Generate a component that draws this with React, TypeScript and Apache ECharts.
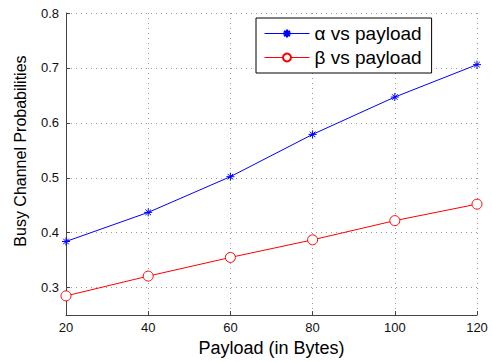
import React, { useEffect, useRef } from "react";
import * as echarts from "echarts";

const payload = [20, 40, 60, 80, 100, 120];
const alphaValues = [0.384, 0.437, 0.502, 0.579, 0.647, 0.706];
const betaValues = [0.285, 0.321, 0.355, 0.387, 0.422, 0.452];
const seriesNames = ["α vs payload", "β vs payload"];
const xTitle = "Payload (in Bytes)";
const yTitle = "Busy Channel Probabilities";

const FONT = "'Liberation Sans', Arial, Helvetica, sans-serif";
const asterisk =
  "path://M5,0L5,10M0,5L10,5M1.5,1.5L8.5,8.5M8.5,1.5L1.5,8.5";

export default function App() {
  const ref = useRef<HTMLDivElement>(null);
  useEffect(() => {
    if (!ref.current) return;
    const chart = echarts.init(ref.current, undefined, { renderer: "svg" });
    const toPairs = (ys: number[]) => payload.map((x, i) => [x, ys[i]]);
    chart.setOption({
      animation: false,
      backgroundColor: "#ffffff",
      grid: { left: 66, right: 15, top: 13, bottom: 42, containLabel: false },
      legend: {
        orient: "vertical",
        left: 256,
        top: 18,
        padding: [6, 10, 6, 8],
        itemGap: 5,
        itemWidth: 45,
        itemHeight: 10,
        backgroundColor: "#ffffff",
        borderColor: "#000000",
        borderWidth: 1,
        lineStyle: { width: 1 },
        textStyle: { fontFamily: FONT, fontSize: 19, color: "#000", lineHeight: 19 },
        data: seriesNames,
      },
      xAxis: {
        type: "value",
        min: 20,
        max: 120,
        interval: 20,
        name: xTitle,
        nameLocation: "middle",
        nameGap: 22,
        nameTextStyle: { fontFamily: FONT, fontSize: 18, color: "#000" },
        axisLine: { show: true, lineStyle: { color: "#444", width: 1 } },
        axisTick: { show: true, inside: true, length: 4, lineStyle: { color: "#444" } },
        axisLabel: { fontFamily: FONT, fontSize: 13, color: "#111", margin: 6 },
        splitLine: { show: true, lineStyle: { color: "#999", type: [1, 4], width: 1 } },
      },
      yAxis: {
        type: "value",
        min: 0.25,
        max: 0.8,
        splitNumber: 5,
        name: yTitle,
        nameLocation: "middle",
        nameGap: 38,
        nameTextStyle: { fontFamily: FONT, fontSize: 16, color: "#000", padding: [0, 0, 0, 26] },
        axisLine: { show: true, lineStyle: { color: "#444", width: 1 } },
        axisTick: { show: true, inside: true, length: 4, lineStyle: { color: "#444" } },
        axisLabel: {
          fontFamily: FONT,
          fontSize: 13,
          color: "#111",
          margin: 7,
          showMinLabel: false,
          formatter: (v: number) => (Math.abs(v * 10 - Math.round(v * 10)) < 1e-6 ? v.toFixed(1) : ""),
        },
        splitLine: { show: true, lineStyle: { color: "#999", type: [1, 4], width: 1 } },
      },
      series: [
        {
          name: seriesNames[0],
          type: "line",
          data: toPairs(alphaValues),
          symbol: asterisk,
          symbolSize: 8,
          showAllSymbol: true,
          lineStyle: { color: "#0000ff", width: 1 },
          itemStyle: { color: "#0000ff", borderColor: "#0000ff", borderWidth: 1 },
        },
        {
          name: seriesNames[1],
          type: "line",
          data: toPairs(betaValues),
          symbol: "circle",
          symbolSize: 10,
          showAllSymbol: true,
          lineStyle: { color: "#ff0000", width: 1 },
          itemStyle: { color: "#ffffff", borderColor: "#ff0000", borderWidth: 1 },
        },
      ],
    });
    return () => chart.dispose();
  }, []);
  return <div ref={ref} style={{ width: 492, height: 362, position: "absolute", left: 0, top: 0 }} />;
}
